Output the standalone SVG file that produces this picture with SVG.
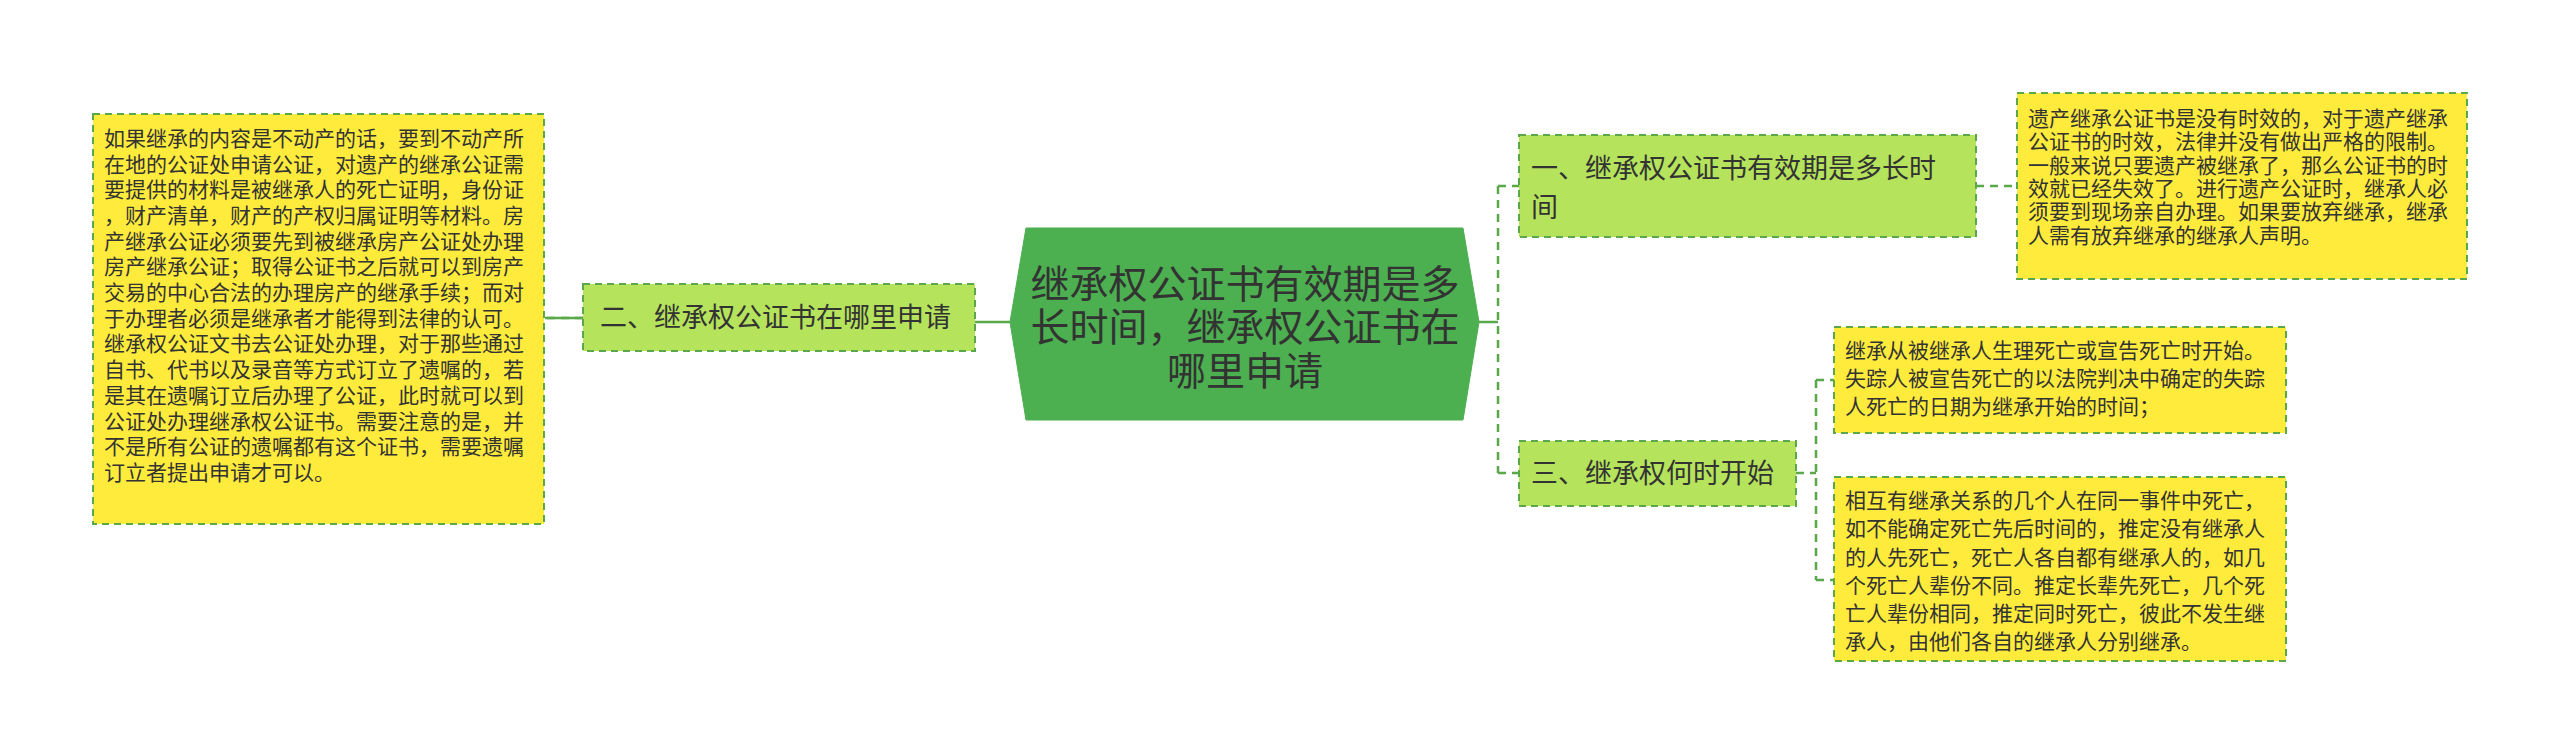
<svg xmlns="http://www.w3.org/2000/svg" width="2560" height="756" viewBox="0 0 2560 756">
<style>
text{font-family:"Liberation Sans","Noto Sans CJK SC",sans-serif;fill:#333}
.leaf{fill:#ffeb3b;stroke:#5aa84a;stroke-width:2;stroke-dasharray:7 5}
.sub{fill:#b5e35c;stroke:#5aa84a;stroke-width:2;stroke-dasharray:7 5}
.t21{font-size:21px}
.t27{font-size:27px}
.c{fill:none;stroke:#5aa84a;stroke-width:2.5}
.d{stroke-dasharray:8 6}
</style>
<rect width="2560" height="756" fill="#fff"/>
<g id="connectors">
<path class="c" d="M583 318 H545"/>
<path class="c d" d="M583 318 H545"/>
<path class="c" d="M1010 322 H975"/>
<path class="c" d="M1479 322 H1498"/>
<path class="c d" d="M1498 186 V473 M1498 186 H1519 M1498 473 H1519"/>
<path class="c d" d="M1976 186 H2017"/>
<path class="c d" d="M1796 473 H1816 M1816 380 V580 M1816 380 H1834 M1816 580 H1834"/>
</g>
<g id="center">
<polygon points="1010,322 1026,228 1463,228 1479,322 1463,420 1026,420" fill="#4caf50" stroke="#4caf50"/>
<text x="1245" y="298" font-size="39" text-anchor="middle">继承权公证书有效期是多</text>
<text x="1245" y="341" font-size="39" text-anchor="middle">长时间，继承权公证书在</text>
<text x="1245" y="385" font-size="39" text-anchor="middle">哪里申请</text>
</g>
<g id="n2">
<rect class="sub" x="583" y="284" width="392" height="67"/>
<text class="t27" x="600" y="327">二、继承权公证书在哪里申请</text>
</g>
<g id="leftbox">
<rect class="leaf" x="93" y="114" width="451" height="410"/>
<g class="t21">
<text x="104" y="146">如果继承的内容是不动产的话，要到不动产所</text>
<text x="104" y="172">在地的公证处申请公证，对遗产的继承公证需</text>
<text x="104" y="197">要提供的材料是被继承人的死亡证明，身份证</text>
<text x="104" y="223">，财产清单，财产的产权归属证明等材料。房</text>
<text x="104" y="249">产继承公证必须要先到被继承房产公证处办理</text>
<text x="104" y="274">房产继承公证；取得公证书之后就可以到房产</text>
<text x="104" y="300">交易的中心合法的办理房产的继承手续；而对</text>
<text x="104" y="326">于办理者必须是继承者才能得到法律的认可。</text>
<text x="104" y="351">继承权公证文书去公证处办理，对于那些通过</text>
<text x="104" y="377">自书、代书以及录音等方式订立了遗嘱的，若</text>
<text x="104" y="403">是其在遗嘱订立后办理了公证，此时就可以到</text>
<text x="104" y="429">公证处办理继承权公证书。需要注意的是，并</text>
<text x="104" y="454">不是所有公证的遗嘱都有这个证书，需要遗嘱</text>
<text x="104" y="480">订立者提出申请才可以。</text>
</g>
</g>
<g id="n1">
<rect class="sub" x="1519" y="135" width="457" height="102"/>
<text class="t27" x="1531" y="178">一、继承权公证书有效期是多长时</text>
<text class="t27" x="1531" y="217">间</text>
</g>
<g id="box1">
<rect class="leaf" x="2017" y="93" width="450" height="186"/>
<g class="t21">
<text x="2028" y="126">遗产继承公证书是没有时效的，对于遗产继承</text>
<text x="2028" y="149">公证书的时效，法律并没有做出严格的限制。</text>
<text x="2028" y="173">一般来说只要遗产被继承了，那么公证书的时</text>
<text x="2028" y="196">效就已经失效了。进行遗产公证时，继承人必</text>
<text x="2028" y="219">须要到现场亲自办理。如果要放弃继承，继承</text>
<text x="2028" y="243">人需有放弃继承的继承人声明。</text>
</g>
</g>
<g id="n3">
<rect class="sub" x="1519" y="441" width="277" height="65"/>
<text class="t27" x="1531" y="483">三、继承权何时开始</text>
</g>
<g id="box2">
<rect class="leaf" x="1834" y="327" width="452" height="106"/>
<g class="t21">
<text x="1845" y="358">继承从被继承人生理死亡或宣告死亡时开始。</text>
<text x="1845" y="386">失踪人被宣告死亡的以法院判决中确定的失踪</text>
<text x="1845" y="414">人死亡的日期为继承开始的时间；</text>
</g>
</g>
<g id="box3">
<rect class="leaf" x="1834" y="477" width="452" height="184"/>
<g class="t21">
<text x="1845" y="508">相互有继承关系的几个人在同一事件中死亡，</text>
<text x="1845" y="536">如不能确定死亡先后时间的，推定没有继承人</text>
<text x="1845" y="565">的人先死亡，死亡人各自都有继承人的，如几</text>
<text x="1845" y="593">个死亡人辈份不同。推定长辈先死亡，几个死</text>
<text x="1845" y="621">亡人辈份相同，推定同时死亡，彼此不发生继</text>
<text x="1845" y="649">承人，由他们各自的继承人分别继承。</text>
</g>
</g>
</svg>
